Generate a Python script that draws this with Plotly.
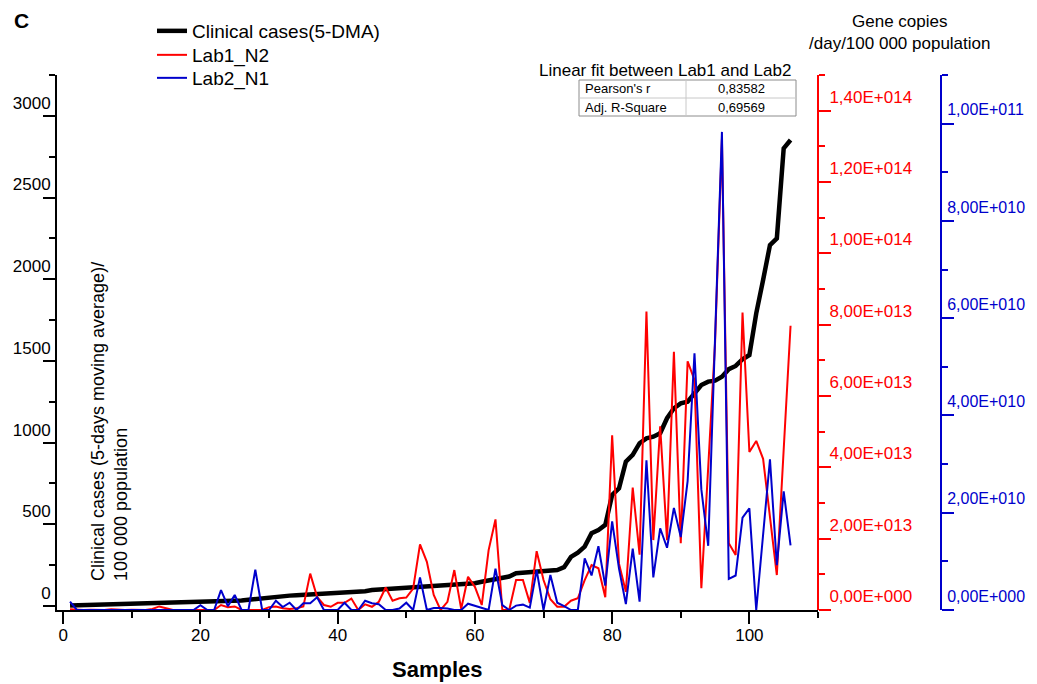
import plotly.graph_objects as go

# ---------------- data ----------------
samples = list(range(1, 107))

clinical_5dma = [
    2, 3, 4, 5, 6, 8, 9, 10, 11, 12,
    13, 14, 15, 16, 17, 18, 19, 20, 21, 22,
    23, 25, 27, 28, 30, 33, 38, 42, 48, 55,
    60, 62, 63, 65, 67, 70, 72, 74, 76, 78,
    80, 82, 84, 90, 97, 100, 102, 104, 106, 108,
    112, 115, 117, 118, 122, 127, 130, 133, 136, 139,
    148, 155, 162, 170, 180, 200, 204, 206, 208, 210,
    214, 220, 237, 300, 326, 363, 445, 465, 496, 679,
    720, 883, 924, 996, 1026, 1036, 1057, 1149, 1210, 1240,
    1250, 1302, 1352, 1373, 1379, 1403, 1449, 1469, 1510, 1536,
    1791, 1995, 2209, 2250, 2801, 2852,
]

# Lab1_N2 gene copies, in units of 1e13
lab1_n2_e13 = [
    0.02, 0.0, 0.0, 0.01, 0.0, 0.0, 0.02, 0.0, 0.0, 0.01,
    0.0, 0.0, 0.03, 0.1, 0.05, 0.0, 0.0, 0.0, 0.0, 0.0,
    0.0, 0.0, 0.14, 0.08, 0.1, 0.0, 0.0, 0.0, 0.0, 0.08,
    0.1, 0.05, 0.03, 0.05, 0.1, 1.02, 0.37, 0.14, 0.09, 0.2,
    0.2, 0.32, 0.0, 0.16, 0.09, 0.23, 0.63, 0.26, 0.33, 0.35,
    0.6, 1.84, 1.35, 0.42, 0.0, 0.23, 1.12, 0.03, 0.93, 0.65,
    0.14, 1.68, 2.54, 0.0, 0.0, 0.84, 0.84, 0.2, 1.65, 0.84,
    0.3, 0.09, 0.09, 0.26, 0.33, 0.84, 1.26, 1.17, 0.36, 4.9,
    1.3, 0.51, 3.43, 1.55, 8.37, 1.96, 5.15, 1.96, 7.24, 1.87,
    6.97, 6.45, 0.61, 4.0, 7.5, 13.2, 1.87, 1.54, 8.34, 4.43,
    4.74, 4.24, 2.6, 0.98, 4.5, 7.97,
]

# Lab2_N1 gene copies, in units of 1e10
lab2_n1_e10 = [
    0.17, 0.0, 0.0, 0.0, 0.0, 0.0, 0.0, 0.0, 0.0, 0.0,
    0.0, 0.0, 0.0, 0.0, 0.0, 0.0, 0.0, 0.0, 0.0, 0.1,
    0.0, 0.0, 0.41, 0.08, 0.31, 0.0, 0.0, 0.83, 0.0, 0.0,
    0.19, 0.06, 0.15, 0.0, 0.14, 0.14, 0.26, 0.0, 0.0, 0.0,
    0.15, 0.0, 0.0, 0.19, 0.14, 0.12, 0.0, 0.0, 0.03, 0.15,
    0.0, 0.67, 0.0, 0.04, 0.04, 0.03, 0.0, 0.0, 0.13, 0.09,
    0.05, 0.0, 0.85, 0.1, 0.0, 0.09, 0.11, 0.05, 0.82, 0.0,
    0.72, 0.15, 0.08, 0.0, 0.0, 1.06, 0.71, 1.31, 0.5, 1.82,
    0.85, 0.12, 1.26, 0.17, 3.08, 0.67, 1.68, 1.28, 2.1, 1.5,
    2.65, 5.28, 2.48, 1.32, 5.6, 9.83, 0.64, 0.71, 1.9, 2.09,
    0.0, 1.5, 3.1, 0.92, 2.44, 1.33,
]

lab1_n2 = [v * 1e13 for v in lab1_n2_e13]
lab2_n1 = [v * 1e10 for v in lab2_n1_e10]

# tick labels
x_tickvals = [0, 20, 40, 60, 80, 100]
left_tickvals = [0, 500, 1000, 1500, 2000, 2500, 3000]
red_tickvals = [0, 2e13, 4e13, 6e13, 8e13, 1e14, 1.2e14, 1.4e14]
red_ticktext = ["0,00E+000", "2,00E+013", "4,00E+013", "6,00E+013",
                "8,00E+013", "1,00E+014", "1,20E+014", "1,40E+014"]
blue_tickvals = [0, 2e10, 4e10, 6e10, 8e10, 1e11]
blue_ticktext = ["0,00E+000", "2,00E+010", "4,00E+010", "6,00E+010",
                 "8,00E+010", "1,00E+011"]

table_rows = [("Pearson's r", "0,83582"), ("Adj. R-Square", "0,69569")]

# ---------------- layout geometry ----------------
# the page puts the figure 8px in from the top-left corner (body margin),
# so the figure is made 8px smaller and all page positions are offset by 8.
PAGE_OFF = 8
W, H = 1037 - PAGE_OFF, 684 - PAGE_OFF
L_PX, R_PX, T_PX, B_PX = 57, 941, 75, 610      # plot box in page pixels
PW = R_PX - L_PX
PH = B_PX - T_PX
RED_AXIS_PX = 818
X_DOMAIN_END = (RED_AXIS_PX - L_PX) / PW


def px(xp):
    return (xp - L_PX) / PW


def py(yp):
    return (B_PX - yp) / PH


FONT = "Arial, Liberation Sans, sans-serif"
RED = "#ff0000"
BLUE = "#0000cc"

fig = go.Figure()

fig.add_trace(go.Scatter(
    x=samples, y=lab1_n2, name="Lab1_N2", mode="lines",
    line=dict(color=RED, width=2), yaxis="y2", legend="legend2",
))
fig.add_trace(go.Scatter(
    x=samples, y=lab2_n1, name="Lab2_N1", mode="lines",
    line=dict(color=BLUE, width=2), yaxis="y3", legend="legend3",
))
fig.add_trace(go.Scatter(
    x=samples, y=clinical_5dma, name="Clinical cases(5-DMA)", mode="lines",
    line=dict(color="black", width=4.5), yaxis="y", legend="legend",
))

axis_common = dict(showgrid=False, zeroline=False, automargin=False,
                   ticks="outside", ticklen=12, tickwidth=2, linewidth=2,
                   showline=True)


def legend_at(row_y):
    return dict(x=px(152), y=py(row_y), xanchor="left", yanchor="middle",
                bgcolor="rgba(0,0,0,0)", font=dict(size=19, family=FONT),
                borderwidth=0)


fig.update_layout(
    width=W, height=H,
    margin=dict(l=L_PX - PAGE_OFF, r=(W + PAGE_OFF) - R_PX,
                t=T_PX - PAGE_OFF, b=(H + PAGE_OFF) - B_PX, pad=0,
                autoexpand=False),
    paper_bgcolor="white", plot_bgcolor="white",
    font=dict(family=FONT, size=17, color="black"),
    showlegend=True,
    legend=legend_at(31),
    legend2=legend_at(55),
    legend3=legend_at(78),
    xaxis=dict(
        domain=[0, X_DOMAIN_END], range=[-0.9, 110],
        tickvals=x_tickvals, linecolor="black", tickcolor="black",
        tickfont=dict(size=17), ticklabelstandoff=-3,
        minor=dict(tickmode="linear", tick0=0, dtick=10, ticks="outside",
                   ticklen=6, tickwidth=2, tickcolor="black"),
        **axis_common,
    ),
    yaxis=dict(
        anchor="x", side="left", range=[-25, 3250],
        tickvals=left_tickvals, linecolor="black", tickcolor="black",
        tickfont=dict(size=17, color="black"),
        ticklabelshift=-13, ticklabelstandoff=-11,
        minor=dict(tickmode="linear", tick0=0, dtick=250, ticks="outside",
                   ticklen=6, tickwidth=2, tickcolor="black"),
        **axis_common,
    ),
    yaxis2=dict(
        overlaying="y", anchor="free", position=X_DOMAIN_END, side="right",
        range=[0, 1.5e14], tickmode="array", tickvals=red_tickvals,
        ticktext=red_ticktext, linecolor=RED, tickcolor=RED,
        tickfont=dict(size=17, color=RED),
        ticklabelshift=-14, ticklabelstandoff=-5,
        minor=dict(tickmode="linear", tick0=0, dtick=1e13, ticks="outside",
                   ticklen=6, tickwidth=2, tickcolor=RED),
        **axis_common,
    ),
    yaxis3=dict(
        overlaying="y", anchor="free", position=1.0, side="right",
        range=[0, 1.1e11], tickmode="array", tickvals=blue_tickvals,
        ticktext=blue_ticktext, linecolor=BLUE, tickcolor=BLUE,
        tickfont=dict(size=16, color=BLUE),
        ticklabelshift=-14, ticklabelstandoff=-10,
        minor=dict(tickmode="linear", tick0=0, dtick=1e10, ticks="outside",
                   ticklen=6, tickwidth=2, tickcolor=BLUE),
        **axis_common,
    ),
)

annotations = [
    dict(text="<b>C</b>", x=px(12), y=py(21), xanchor="left", yanchor="middle",
         font=dict(size=21)),
    dict(text="<b>Samples</b>", x=px(437), y=py(669), xanchor="center",
         yanchor="middle", font=dict(size=22)),
    dict(text="Clinical cases (5-days moving average)/<br>100 000 population",
         x=px(109), y=py(422), textangle=-90, align="left",
         xanchor="center", yanchor="middle", font=dict(size=18)),
    dict(text="Gene copies<br>/day/100 000 population", x=px(900), y=py(33),
         xanchor="center", yanchor="middle", align="center",
         font=dict(size=17)),
    dict(text="Linear fit between Lab1 and Lab2", x=px(665), y=py(70),
         xanchor="center", yanchor="middle", font=dict(size=17)),
]

# table
tbl_l, tbl_mid, tbl_r, tbl_t, tbl_b = 579, 686, 796, 80, 116
row_h = (tbl_b - tbl_t) / len(table_rows)
shapes = [
    dict(type="rect", xref="paper", yref="paper", x0=px(tbl_l), x1=px(tbl_r),
         y0=py(tbl_b), y1=py(tbl_t), line=dict(color="#8c8c8c", width=1),
         fillcolor="white", layer="above"),
    dict(type="line", xref="paper", yref="paper", x0=px(tbl_mid), x1=px(tbl_mid),
         y0=py(tbl_b), y1=py(tbl_t), line=dict(color="#c8c8c8", width=1),
         layer="above"),
]
for k, (lab, val) in enumerate(table_rows):
    yc = tbl_t + row_h * (k + 0.5)
    if k > 0:
        shapes.append(dict(type="line", xref="paper", yref="paper",
                           x0=px(tbl_l), x1=px(tbl_r),
                           y0=py(tbl_t + row_h * k), y1=py(tbl_t + row_h * k),
                           line=dict(color="#c8c8c8", width=1), layer="above"))
    annotations.append(dict(text=lab, x=px(tbl_l + 4), y=py(yc), xanchor="left",
                            yanchor="middle", font=dict(size=13)))
    annotations.append(dict(text=val, x=px((tbl_mid + tbl_r) / 2), y=py(yc),
                            xanchor="center", yanchor="middle",
                            font=dict(size=13)))

for a in annotations:
    a.update(xref="paper", yref="paper", showarrow=False)

fig.update_layout(annotations=annotations, shapes=shapes)

fig.write_html("out.html")
